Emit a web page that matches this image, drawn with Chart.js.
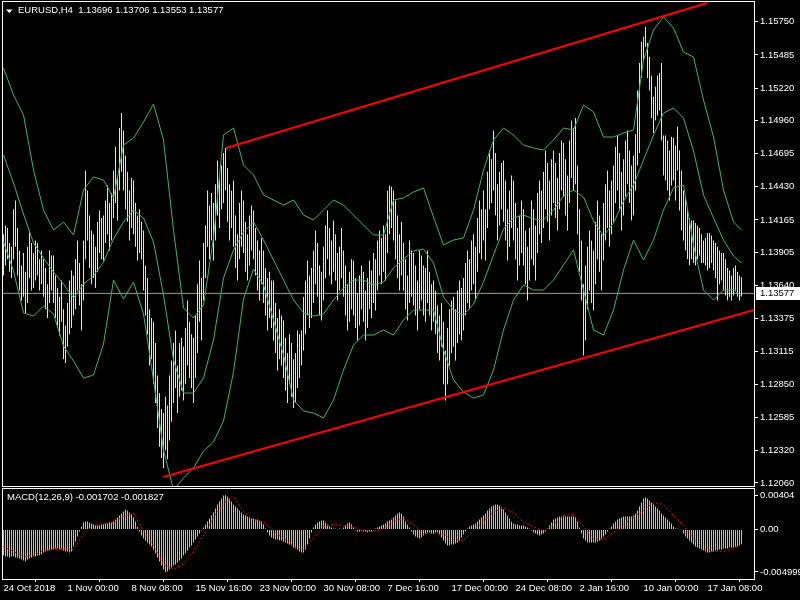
<!DOCTYPE html>
<html>
<head>
<meta charset="utf-8">
<script src="https://cdn.jsdelivr.net/npm/chart.js"></script>
<style>
html,body{margin:0;padding:0;background:#000;overflow:hidden;}
#wrap{position:relative;width:800px;height:600px;background:#000;}
canvas{position:absolute;left:0;display:block;}
#main{top:0;}
#macd{top:487px;}
</style>
</head>
<body>
<div id="wrap">
<canvas id="main" width="800" height="487"></canvas>
<canvas id="macd" width="800" height="113"></canvas>
</div>
<script>
// ---------------- DATA ----------------
const chartTitle = 'EURUSD,H4  1.13696 1.13706 1.13553 1.13577';
const macdTitle = 'MACD(12,26,9) -0.001702 -0.001827';
const lastPrice = 1.13577;

const barHigh = [
1.1405,1.1412,1.1410,1.1398,1.1395,1.1425,1.1432,1.1410,1.1392,1.1380,
1.1390,1.1375,1.1395,1.1408,1.1398,1.1390,1.1400,1.1398,1.1385,1.1392,
1.1385,1.1378,1.1365,1.1392,1.1388,1.1388,1.1372,1.1362,1.1355,1.1368,
1.1345,1.1332,1.1350,1.1368,1.1376,1.1372,1.1385,1.1400,1.1382,1.1365,
1.1400,1.1456,1.1440,1.1420,1.1408,1.1405,1.1395,1.1415,1.1424,1.1418,
1.1420,1.1432,1.1444,1.1430,1.1438,1.1456,1.1475,1.1452,1.1490,1.1502,
1.1488,1.1468,1.1455,1.1440,1.1450,1.1448,1.1430,1.1420,1.1425,1.1415,
1.1408,1.1380,1.1370,1.1345,1.1338,1.1335,1.1318,1.1292,1.1278,1.1265,
1.1262,1.1275,1.1268,1.1292,1.1304,1.1318,1.1328,1.1300,1.1318,1.1322,
1.1315,1.1330,1.1352,1.1335,1.1325,1.1322,1.1340,1.1365,1.1384,1.1370,
1.1398,1.1412,1.1440,1.1428,1.1438,1.1430,1.1445,1.1464,1.1450,1.1460,
1.1470,1.1474,1.1458,1.1445,1.1440,1.1448,1.1420,1.1405,1.1430,1.1440,
1.1432,1.1415,1.1405,1.1420,1.1428,1.1424,1.1410,1.1400,1.1392,1.1402,
1.1392,1.1378,1.1370,1.1375,1.1368,1.1368,1.1350,1.1338,1.1345,1.1340,
1.1336,1.1322,1.1310,1.1325,1.1318,1.1305,1.1310,1.1328,1.1325,1.1328,
1.1355,1.1368,1.1384,1.1372,1.1378,1.1392,1.1408,1.1398,1.1380,1.1375,
1.1395,1.1412,1.1424,1.1410,1.1400,1.1416,1.1405,1.1390,1.1395,1.1410,
1.1392,1.1380,1.1365,1.1375,1.1385,1.1384,1.1370,1.1358,1.1372,1.1380,
1.1375,1.1360,1.1370,1.1384,1.1376,1.1390,1.1385,1.1400,1.1408,1.1402,
1.1412,1.1405,1.1440,1.1444,1.1443,1.1440,1.1432,1.1420,1.1405,1.1415,
1.1398,1.1385,1.1372,1.1400,1.1392,1.1390,1.1380,1.1368,1.1392,1.1388,
1.1380,1.1378,1.1392,1.1375,1.1365,1.1368,1.1360,1.1348,1.1340,1.1350,
1.1335,1.1312,1.1330,1.1345,1.1352,1.1355,1.1345,1.1360,1.1368,1.1362,
1.1370,1.1382,1.1392,1.1385,1.1400,1.1405,1.1395,1.1418,1.1432,1.1425,
1.1440,1.1425,1.1455,1.1472,1.1465,1.1488,1.1470,1.1445,1.1455,1.1462,
1.1464,1.1448,1.1425,1.1440,1.1452,1.1448,1.1430,1.1410,1.1420,1.1432,
1.1425,1.1408,1.1395,1.1410,1.1432,1.1425,1.1412,1.1438,1.1448,1.1440,
1.1455,1.1472,1.1462,1.1448,1.1465,1.1472,1.1462,1.1450,1.1470,1.1480,
1.1478,1.1465,1.1452,1.1480,1.1496,1.1490,1.1498,1.1460,1.1425,1.1400,
1.1365,1.1380,1.1395,1.1408,1.1400,1.1392,1.1415,1.1432,1.1420,1.1405,
1.1430,1.1445,1.1456,1.1440,1.1448,1.1460,1.1475,1.1484,1.1470,1.1455,
1.1465,1.1480,1.1488,1.1472,1.1460,1.1468,1.1485,1.1520,1.1542,1.1559,
1.1563,1.1571,1.1558,1.1547,1.1532,1.1515,1.1523,1.1532,1.1534,1.1542,
1.1484,1.1484,1.1480,1.1472,1.1483,1.1482,1.1476,1.1491,1.1472,1.1456,
1.1440,1.1435,1.1425,1.1418,1.1416,1.1416,1.1414,1.1412,1.1410,1.1405,
1.1400,1.1402,1.1406,1.1406,1.1404,1.1400,1.1398,1.1395,1.1392,1.1390,
1.1390,1.1385,1.1378,1.1376,1.1372,1.1378,1.1380,1.1375,1.1372,1.13706
];
const barLow = [
1.1372,1.1380,1.1385,1.1375,1.1370,1.1385,1.1395,1.1372,1.1360,1.1352,
1.1355,1.1342,1.1350,1.1370,1.1360,1.1362,1.1368,1.1372,1.1360,1.1365,
1.1355,1.1345,1.1338,1.1350,1.1360,1.1350,1.1338,1.1330,1.1324,1.1335,
1.1305,1.1302,1.1315,1.1325,1.1330,1.1340,1.1345,1.1360,1.1348,1.1328,
1.1352,1.1385,1.1400,1.1378,1.1365,1.1370,1.1362,1.1375,1.1390,1.1385,
1.1384,1.1398,1.1405,1.1392,1.1400,1.1418,1.1430,1.1416,1.1440,1.1455,
1.1440,1.1425,1.1415,1.1400,1.1410,1.1405,1.1395,1.1384,1.1390,1.1385,
1.1360,1.1340,1.1325,1.1300,1.1305,1.1285,1.1270,1.1250,1.1235,1.1226,
1.1218,1.1232,1.1225,1.1240,1.1255,1.1270,1.1282,1.1262,1.1275,1.1280,
1.1272,1.1285,1.1300,1.1290,1.1282,1.1270,1.1290,1.1310,1.1335,1.1320,
1.1352,1.1370,1.1395,1.1385,1.1400,1.1384,1.1400,1.1420,1.1410,1.1425,
1.1430,1.1440,1.1415,1.1400,1.1410,1.1395,1.1378,1.1368,1.1385,1.1395,
1.1390,1.1375,1.1368,1.1380,1.1392,1.1385,1.1372,1.1360,1.1352,1.1365,
1.1350,1.1340,1.1328,1.1338,1.1330,1.1320,1.1310,1.1296,1.1305,1.1300,
1.1290,1.1280,1.1270,1.1285,1.1275,1.1266,1.1270,1.1282,1.1290,1.1300,
1.1312,1.1325,1.1340,1.1330,1.1338,1.1350,1.1365,1.1355,1.1340,1.1336,
1.1352,1.1370,1.1385,1.1372,1.1365,1.1375,1.1368,1.1352,1.1360,1.1370,
1.1355,1.1340,1.1328,1.1335,1.1345,1.1340,1.1330,1.1320,1.1332,1.1345,
1.1335,1.1320,1.1330,1.1345,1.1338,1.1350,1.1344,1.1360,1.1372,1.1365,
1.1375,1.1368,1.1390,1.1405,1.1410,1.1400,1.1385,1.1370,1.1360,1.1372,
1.1360,1.1345,1.1336,1.1350,1.1355,1.1348,1.1340,1.1328,1.1345,1.1352,
1.1340,1.1335,1.1350,1.1340,1.1328,1.1335,1.1325,1.1310,1.1304,1.1315,
1.1285,1.1272,1.1285,1.1300,1.1310,1.1315,1.1304,1.1318,1.1325,1.1320,
1.1328,1.1340,1.1350,1.1345,1.1360,1.1365,1.1352,1.1375,1.1390,1.1385,
1.1400,1.1384,1.1410,1.1425,1.1430,1.1440,1.1420,1.1400,1.1412,1.1425,
1.1415,1.1400,1.1384,1.1395,1.1410,1.1400,1.1385,1.1368,1.1380,1.1390,
1.1380,1.1365,1.1352,1.1368,1.1385,1.1380,1.1368,1.1390,1.1405,1.1398,
1.1410,1.1425,1.1415,1.1400,1.1420,1.1430,1.1418,1.1408,1.1425,1.1440,
1.1435,1.1420,1.1408,1.1430,1.1450,1.1440,1.1445,1.1405,1.1375,1.1352,
1.1308,1.1320,1.1345,1.1360,1.1350,1.1344,1.1365,1.1385,1.1375,1.1360,
1.1384,1.1400,1.1410,1.1395,1.1405,1.1415,1.1430,1.1440,1.1425,1.1408,
1.1420,1.1435,1.1445,1.1430,1.1416,1.1420,1.1440,1.1460,1.1470,1.1530,
1.1543,1.1555,1.1530,1.1520,1.1498,1.1486,1.1496,1.1500,1.1504,1.1480,
1.1452,1.1448,1.1440,1.1432,1.1444,1.1448,1.1432,1.1456,1.1424,1.1408,
1.1400,1.1392,1.1385,1.1380,1.1385,1.1382,1.1380,1.1385,1.1388,1.1382,
1.1382,1.1380,1.1376,1.1378,1.1382,1.1376,1.1370,1.1352,1.1365,1.1368,
1.1360,1.1356,1.1352,1.1355,1.1352,1.1356,1.1360,1.1355,1.1352,1.13553
];

const bandIndex = [
0,5,10,15,20,25,30,35,40,45,50,55,60,65,70,75,80,85,90,95,
100,105,110,115,120,125,130,135,140,145,150,155,160,165,170,175,180,185,190,195,
200,205,210,215,220,225,230,235,240,245,250,255,260,265,270,275,280,285,290,295,
300,305,310,315,320,325,330,335,340,345,350,355,360,365,369
];
const bbUpper = [
1.15380,1.15164,1.15004,1.14564,1.14244,1.14084,1.14148,1.14044,1.14404,1.14508,
1.14484,1.14340,1.14764,1.14820,1.14948,1.15092,1.14804,1.14084,1.13460,1.13380,
1.13484,1.14020,1.14844,1.14900,1.14604,1.14524,1.14364,1.14324,1.14284,1.14324,
1.14204,1.14164,1.14244,1.14324,1.14284,1.14204,1.14124,1.14044,1.14044,1.14324,
1.14340,1.14388,1.14420,1.14188,1.13964,1.14004,1.14020,1.14244,1.14564,1.14804,
1.14900,1.14844,1.14764,1.14740,1.14724,1.14804,1.14900,1.14884,1.15084,1.15028,
1.14828,1.14828,1.14860,1.14884,1.15444,1.15684,1.15788,1.15700,1.15508,1.15468,
1.15124,1.14828,1.14404,1.14148,1.14084
];
const bbMiddle = [
1.14684,1.14460,1.14212,1.13980,1.13860,1.13748,1.13652,1.13540,1.13652,1.13716,
1.13828,1.14012,1.14148,1.14244,1.14180,1.13988,1.13564,1.13044,1.12780,1.12780,
1.12900,1.13204,1.13700,1.13924,1.14068,1.14148,1.14004,1.13844,1.13684,1.13524,
1.13420,1.13396,1.13412,1.13524,1.13620,1.13684,1.13684,1.13644,1.13668,1.13780,
1.13852,1.13916,1.13932,1.13820,1.13548,1.13444,1.13404,1.13492,1.13668,1.13884,
1.14092,1.14180,1.14204,1.14172,1.14164,1.14244,1.14356,1.14404,1.14348,1.14156,
1.14036,1.14140,1.14316,1.14444,1.14644,1.14844,1.15020,1.15060,1.14980,1.14716,
1.14364,1.14180,1.14004,1.13876,1.13820
];
const bbLower = [
1.13988,1.13756,1.13420,1.13396,1.13476,1.13412,1.13156,1.13036,1.12900,1.12924,
1.13172,1.13684,1.13532,1.13668,1.13412,1.12884,1.12324,1.12004,1.12100,1.12180,
1.12316,1.12388,1.12556,1.12948,1.13532,1.13772,1.13644,1.13364,1.13084,1.12724,
1.12636,1.12620,1.12580,1.12724,1.12964,1.13164,1.13244,1.13244,1.13284,1.13244,
1.13364,1.13444,1.13444,1.13444,1.13124,1.12884,1.12788,1.12740,1.12764,1.12964,
1.13284,1.13524,1.13644,1.13604,1.13604,1.13684,1.13804,1.13924,1.13604,1.13284,
1.13244,1.13444,1.13764,1.14004,1.13844,1.14004,1.14244,1.14420,1.14444,1.13964,
1.13604,1.13524,1.13604,1.13604,1.13556
];

const trendUpperX = [111.25, 351.75];
const trendUpperY = [1.14740, 1.15900];
const trendLowerX = [79.75, 375.25];
const trendLowerY = [1.12108, 1.13444];

const macdHist = [
-0.00306,-0.00318,-0.00318,-0.00330,-0.00318,-0.00318,-0.00330,-0.00330,-0.00342,-0.00353,
-0.00365,-0.00377,-0.00353,-0.00342,-0.00330,-0.00318,-0.00318,-0.00306,-0.00306,-0.00295,
-0.00271,-0.00259,-0.00247,-0.00247,-0.00236,-0.00236,-0.00224,-0.00224,-0.00236,-0.00236,
-0.00247,-0.00259,-0.00259,-0.00271,-0.00259,-0.00200,-0.00141,-0.00082,-0.00024,0.00035,
0.00082,0.00094,0.00094,0.00082,0.00071,0.00059,0.00047,0.00047,0.00047,0.00059,
0.00059,0.00071,0.00071,0.00082,0.00082,0.00094,0.00118,0.00141,0.00165,0.00188,
0.00212,0.00236,0.00224,0.00200,0.00177,0.00141,0.00094,0.00035,-0.00024,-0.00071,
-0.00106,-0.00130,-0.00153,-0.00177,-0.00200,-0.00236,-0.00283,-0.00330,-0.00377,-0.00424,
-0.00471,-0.004999,-0.00495,-0.00471,-0.00448,-0.00424,-0.00412,-0.00389,-0.00365,-0.00342,
-0.00306,-0.00283,-0.00247,-0.00212,-0.00188,-0.00153,-0.00118,-0.00082,-0.00047,-0.00012,
0.00024,0.00059,0.00094,0.00130,0.00165,0.00200,0.00247,0.00295,0.00330,0.00365,
0.00401,0.00404,0.00389,0.00365,0.00330,0.00295,0.00271,0.00247,0.00224,0.00200,
0.00177,0.00165,0.00153,0.00141,0.00130,0.00130,0.00118,0.00118,0.00106,0.00094,
0.00059,0.00012,-0.00035,-0.00071,-0.00094,-0.00106,-0.00118,-0.00118,-0.00130,-0.00130,
-0.00141,-0.00153,-0.00165,-0.00177,-0.00188,-0.00212,-0.00224,-0.00236,-0.00259,-0.00271,
-0.00271,-0.00236,-0.00177,-0.00106,-0.00035,0.00024,0.00059,0.00082,0.00094,0.00106,
0.00106,0.00082,0.00059,0.00035,0.00024,0.00012,0.00012,0.00003,0.00012,0.00003,
0.00024,0.00047,0.00071,0.00082,0.00059,0.00024,-0.00012,-0.00024,-0.00024,-0.00012,
-0.00024,-0.00024,-0.00035,-0.00024,-0.00024,-0.00012,0.00012,0.00024,0.00035,0.00047,
0.00059,0.00071,0.00094,0.00106,0.00118,0.00141,0.00165,0.00188,0.00200,0.00188,
0.00153,0.00094,0.00059,0.00024,-0.00024,-0.00059,-0.00082,-0.00094,-0.00106,-0.00094,
-0.00071,-0.00047,-0.00035,-0.00035,-0.00047,-0.00047,-0.00035,-0.00035,-0.00059,-0.00094,
-0.00130,-0.00165,-0.00188,-0.00188,-0.00177,-0.00177,-0.00165,-0.00153,-0.00130,-0.00094,
-0.00059,-0.00024,0.00012,0.00035,0.00047,0.00059,0.00071,0.00094,0.00118,0.00141,
0.00165,0.00188,0.00224,0.00247,0.00271,0.00283,0.00295,0.00295,0.00283,0.00259,
0.00236,0.00200,0.00165,0.00130,0.00094,0.00071,0.00059,0.00059,0.00047,0.00047,
0.00047,0.00035,0.00024,0.00012,-0.00012,-0.00035,-0.00047,-0.00059,-0.00071,-0.00059,
-0.00047,-0.00024,0.00012,0.00047,0.00082,0.00118,0.00130,0.00141,0.00153,0.00153,
0.00153,0.00153,0.00153,0.00153,0.00153,0.00153,0.00141,0.00094,0.00024,-0.00047,
-0.00106,-0.00130,-0.00153,-0.00153,-0.00153,-0.00153,-0.00153,-0.00141,-0.00130,-0.00106,
-0.00082,-0.00059,-0.00024,0.00012,0.00035,0.00071,0.00094,0.00118,0.00130,0.00141,
0.00153,0.00153,0.00153,0.00153,0.00153,0.00165,0.00188,0.00224,0.00271,0.00318,
0.00365,0.00377,0.00365,0.00342,0.00318,0.00295,0.00271,0.00247,0.00224,0.00188,
0.00165,0.00141,0.00118,0.00094,0.00071,0.00035,0.00012,0.00012,0.00003,-0.00003,
-0.00047,-0.00082,-0.00106,-0.00130,-0.00153,-0.00177,-0.00200,-0.00212,-0.00224,-0.00236,
-0.00247,-0.00259,-0.00271,-0.00271,-0.00259,-0.00259,-0.00247,-0.00247,-0.00236,-0.00236,
-0.00224,-0.00224,-0.00224,-0.00212,-0.00212,-0.00212,-0.00200,-0.00200,-0.00188,-0.001702
];
const macdSignal = [
-0.00200,-0.00259,-0.00318,-0.00306,-0.00247,-0.00224,-0.00224,-0.00236,-0.00053,0.00059,
0.00071,0.00082,0.00153,0.00188,-0.00012,-0.00188,-0.00412,-0.00471,-0.00401,-0.00259,
-0.00071,0.00141,0.00306,0.00389,0.00212,0.00106,0.00094,-0.00012,-0.00106,-0.00200,
-0.00236,-0.00094,0.00035,0.00059,0.00047,0.00024,-0.00012,-0.00024,0.00012,0.00094,
0.00130,0.00059,-0.00047,-0.00047,-0.00059,-0.00118,-0.00130,-0.00012,0.00094,0.00200,
0.00259,0.00200,0.00082,0.00035,-0.00024,0.00059,0.00165,0.00177,0.00035,-0.00106,
-0.00118,-0.00035,0.00059,0.00141,0.00224,0.00318,0.00295,0.00165,0.00047,-0.00106,
-0.00224,-0.00259,-0.00259,-0.00224,-0.001827
];

const priceTicks = [1.15750,1.15485,1.15220,1.14960,1.14695,1.14430,1.14165,1.13905,1.13640,1.13375,1.13115,1.12850,1.12585,1.12320,1.12060];
const macdTicks = [0.00404, 0, -0.004999];
const macdTickLabels = ['0.00404', '0.00', '-0.004999'];
const dateTickIndex = [0,32,64,96,128,160,192,224,256,288,320,352];
const dateTickLabels = ['24 Oct 2018','1 Nov 00:00','8 Nov 08:00','15 Nov 16:00','23 Nov 00:00','30 Nov 08:00','7 Dec 16:00','17 Dec 00:00','24 Dec 08:00','2 Jan 16:00','10 Jan 00:00','17 Jan 08:00'];

// ---------------- LAYOUT / STYLE ----------------
const X_MIN = -0.75, X_MAX = 375.25;
const P_MIN = 1.12028, P_MAX = 1.15916;
const M_MIN = -0.005831, M_MAX = 0.005007;
const FONT = {family: '"Liberation Sans", Arial, sans-serif', size: 9.5};
const FONT_CSS = '9.5px "Liberation Sans", Arial, sans-serif';
const BAR_COLOR = '#FFFF00';
const BAND_COLOR = '#3CB371';

const pts = (xs, ys) => xs.map((x, k) => ({x: x, y: ys[k]}));

const mainDecor = {
  id: 'mainDecor',
  afterDraw(chart) {
    const c = chart.ctx;
    c.save();
    c.strokeStyle = '#ffffff';
    c.lineWidth = 1;
    c.strokeRect(2.5, 1.5, 752, 485);
    c.fillStyle = '#ffffff';
    c.beginPath(); c.moveTo(6, 9.5); c.lineTo(12.5, 9.5); c.lineTo(9.25, 13); c.closePath(); c.fill();
    c.font = FONT_CSS;
    c.textBaseline = 'middle';
    c.textAlign = 'left';
    c.fillText(chartTitle, 18, 10.5);
    const y = Math.round(chart.scales.y.getPixelForValue(lastPrice));
    c.fillRect(756, y - 6, 44, 13);
    c.fillStyle = '#000000';
    c.fillText(lastPrice.toFixed(5), 760, y + 0.5);
    c.restore();
  }
};
const macdDecor = {
  id: 'macdDecor',
  afterDraw(chart) {
    const c = chart.ctx;
    c.save();
    c.strokeStyle = '#ffffff';
    c.lineWidth = 1;
    c.strokeRect(2.5, 1.5, 752, 91);
    c.fillStyle = '#ffffff';
    c.font = FONT_CSS;
    c.textBaseline = 'middle';
    c.textAlign = 'left';
    c.fillText(macdTitle, 7, 10.5);
    c.restore();
  }
};

const lineDs = (data, color, width, order, extra) => Object.assign({
  type: 'line', data: data, borderColor: color, borderWidth: width,
  pointRadius: 0, fill: false, tension: 0, order: order
}, extra || {});

new Chart(document.getElementById('main'), {
  data: {
    datasets: [
      lineDs(pts([X_MIN, X_MAX], [lastPrice, lastPrice]), '#9a9a9a', 1, 5),
      {
        type: 'bar',
        data: barHigh.map((h, i) => ({x: i, y: [barLow[i], h]})),
        backgroundColor: BAR_COLOR, borderWidth: 0, barThickness: 1,
        inflateAmount: 0, grouped: false, order: 4
      },
      lineDs(pts(bandIndex, bbUpper), BAND_COLOR, 1, 3),
      lineDs(pts(bandIndex, bbMiddle), BAND_COLOR, 1, 3),
      lineDs(pts(bandIndex, bbLower), BAND_COLOR, 1, 3),
      lineDs(pts(trendUpperX, trendUpperY), '#FF0000', 2, 1),
      lineDs(pts(trendLowerX, trendLowerY), '#FF0000', 2, 1)
    ]
  },
  options: {
    responsive: false, maintainAspectRatio: false, animation: false, events: [],
    layout: {padding: {left: 2, top: 1, right: 0, bottom: 0}},
    plugins: {legend: {display: false}, tooltip: {enabled: false}},
    scales: {
      x: {type: 'linear', display: false, min: X_MIN, max: X_MAX, offset: false},
      y: {
        type: 'linear', position: 'right', min: P_MIN, max: P_MAX, beginAtZero: false,
        afterBuildTicks: s => { s.ticks = priceTicks.map(v => ({value: v})); },
        afterFit: s => { s.width = 46; s.paddingTop = 0; s.paddingBottom = 0; },
        ticks: {color: '#ffffff', font: FONT, padding: 2, callback: v => Number(v).toFixed(5)},
        grid: {drawOnChartArea: false, drawTicks: true, tickLength: 4, tickColor: '#ffffff', tickWidth: 1},
        border: {display: false}
      }
    }
  },
  plugins: [mainDecor]
});

new Chart(document.getElementById('macd'), {
  data: {
    datasets: [
      {
        type: 'bar',
        data: macdHist.map((v, i) => ({x: i, y: v})),
        backgroundColor: '#C0C0C0', borderWidth: 0, barThickness: 1,
        inflateAmount: 0, grouped: false, order: 2
      },
      lineDs(pts(bandIndex, macdSignal), '#FF0000', 1, 1, {borderDash: [2, 2]})
    ]
  },
  options: {
    responsive: false, maintainAspectRatio: false, animation: false, events: [],
    layout: {padding: {left: 2, top: 0, right: 0, bottom: 0}},
    plugins: {legend: {display: false}, tooltip: {enabled: false}},
    scales: {
      x: {
        type: 'linear', position: 'bottom', min: X_MIN, max: X_MAX, offset: false,
        afterBuildTicks: s => { s.ticks = dateTickIndex.map(v => ({value: v})); },
        afterFit: s => { s.height = 21; s.paddingLeft = 0; s.paddingRight = 0; },
        ticks: {color: '#ffffff', font: FONT, align: 'start', maxRotation: 0, minRotation: 0,
                autoSkip: false, padding: 1, callback: (v, i) => dateTickLabels[i]},
        grid: {drawOnChartArea: false, drawTicks: true, tickLength: 3, tickColor: '#ffffff'},
        border: {display: false}
      },
      y: {
        type: 'linear', position: 'right', min: M_MIN, max: M_MAX, beginAtZero: false,
        afterBuildTicks: s => { s.ticks = macdTicks.map(v => ({value: v})); },
        afterFit: s => { s.width = 46; s.paddingTop = 0; s.paddingBottom = 0; },
        ticks: {color: '#ffffff', font: FONT, padding: 2, callback: (v, i) => macdTickLabels[i]},
        grid: {drawOnChartArea: false, drawTicks: true, tickLength: 4, tickColor: '#ffffff'},
        border: {display: false}
      }
    }
  },
  plugins: [macdDecor]
});
</script>
</body>
</html>
